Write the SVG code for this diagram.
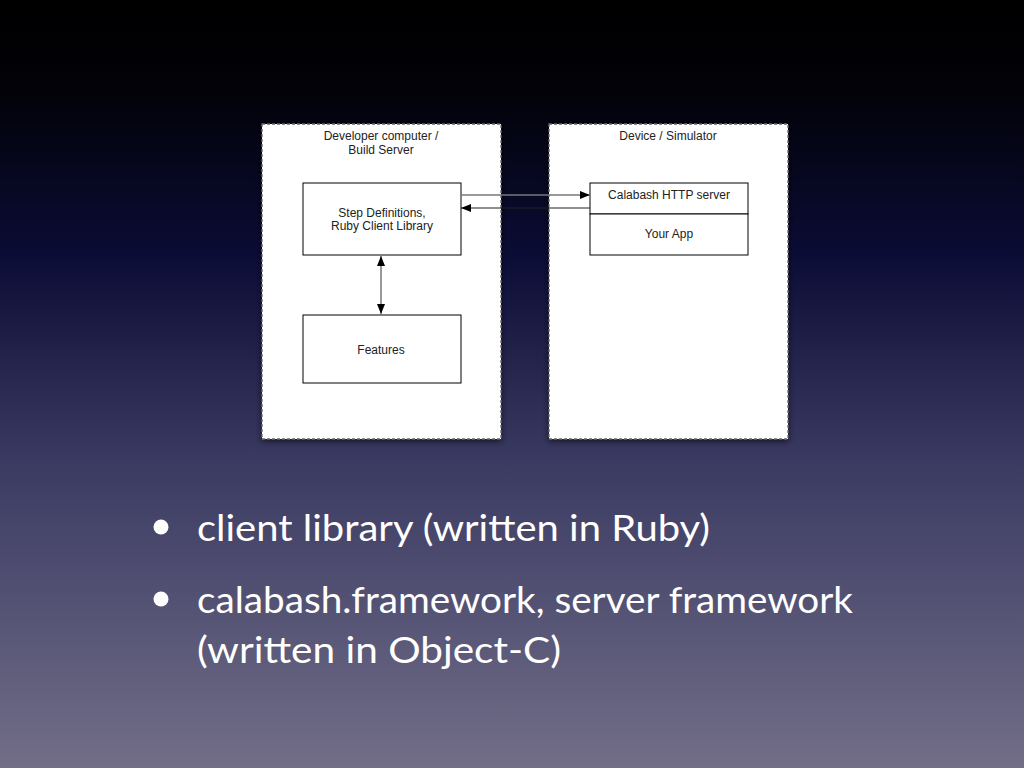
<svg xmlns="http://www.w3.org/2000/svg" width="1024" height="768" viewBox="0 0 1024 768">
<defs>
<linearGradient id="bg" x1="0" y1="0" x2="0" y2="1">
<stop offset="0" stop-color="#000000"/>
<stop offset="0.12" stop-color="#020208"/>
<stop offset="0.33" stop-color="#0b0c35"/>
<stop offset="0.6" stop-color="#3a3a62"/>
<stop offset="1" stop-color="#726e88"/>
</linearGradient>
<filter id="sh" x="-10%" y="-10%" width="120%" height="120%">
<feDropShadow dx="0" dy="2" stdDeviation="3" flood-color="#000" flood-opacity="0.6"/>
</filter>
<marker id="ah" viewBox="0 0 10 10" refX="10" refY="5" markerWidth="10" markerHeight="10" markerUnits="userSpaceOnUse" orient="auto-start-reverse">
<path d="M0,1 L10,5 L0,9 z" fill="#000"/>
</marker>
<style>
.cont{fill:#fff;stroke:#666;stroke-width:1.3;stroke-dasharray:3 2;filter:url(#sh)}
.box{fill:#fff;stroke:#000;stroke-width:1}
.t{font-family:"Liberation Sans",Arial,sans-serif;font-size:12px;fill:#222;text-anchor:middle}
.b{font-family:Lato,"Open Sans",sans-serif;font-size:37px;fill:#fff}
.ln{stroke:#777;stroke-width:1.5;fill:none}
.lk{stroke:#222;stroke-width:1;fill:none}
</style>
</defs>
<rect width="1024" height="768" fill="url(#bg)"/>
<g id="dev-container">
<rect class="cont" x="262" y="124" width="239" height="315"/>
<text class="t" x="381" y="140">Developer computer /</text>
<text class="t" x="381" y="154">Build Server</text>
</g>
<g id="device-container">
<rect class="cont" x="549" y="124" width="239" height="315"/>
<text class="t" x="668" y="140">Device / Simulator</text>
</g>
<g id="step-defs">
<rect class="box" x="303" y="183" width="158" height="72"/>
<text class="t" x="382" y="217">Step Definitions,</text>
<text class="t" x="382" y="230">Ruby Client Library</text>
</g>
<g id="features">
<rect class="box" x="303" y="315" width="158" height="68"/>
<text class="t" x="381" y="354">Features</text>
</g>
<g id="calabash-server">
<rect class="box" x="590" y="183" width="158" height="31"/>
<text class="t" x="669" y="199">Calabash HTTP server</text>
</g>
<g id="your-app">
<rect class="box" x="590" y="214" width="158" height="41"/>
<text class="t" x="669" y="238">Your App</text>
</g>
<g id="connectors">
<line class="ln" x1="461" y1="195" x2="590" y2="195" marker-end="url(#ah)"/>
<line class="lk" x1="590" y1="208" x2="461" y2="208" marker-end="url(#ah)"/>
<line class="ln" x1="381" y1="256" x2="381" y2="314" marker-start="url(#ah)" marker-end="url(#ah)"/>
</g>
<g id="bullets">
<circle cx="161" cy="527" r="7.5" fill="#fff"/>
<text class="b" x="197" y="541" textLength="513" lengthAdjust="spacingAndGlyphs">client library (written in Ruby)</text>
<circle cx="161" cy="599" r="7.5" fill="#fff"/>
<text class="b" x="197" y="613" textLength="656" lengthAdjust="spacingAndGlyphs">calabash.framework, server framework</text>
<text class="b" x="197" y="663" textLength="364" lengthAdjust="spacingAndGlyphs">(written in Object-C)</text>
</g>
</svg>
